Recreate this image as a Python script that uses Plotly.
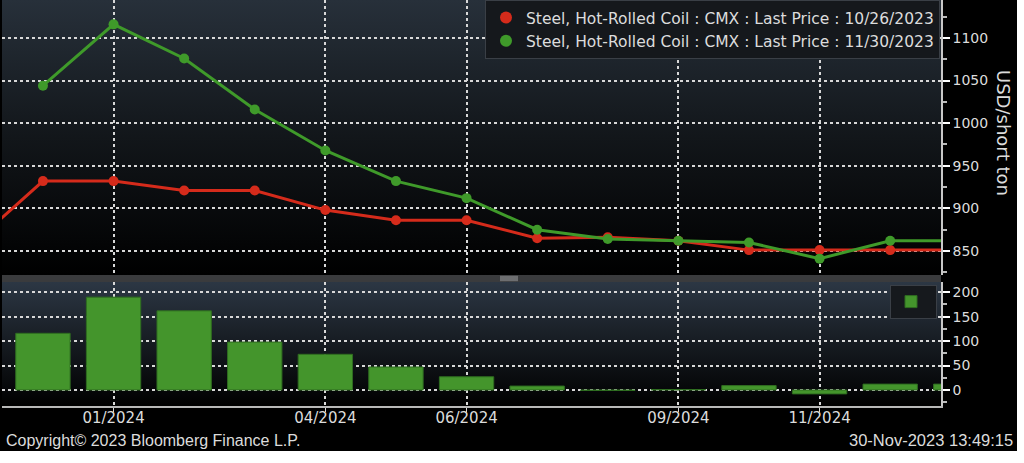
import base64
import plotly.graph_objects as go

# ---------------- data ----------------
contracts = ["11/2023", "12/2023", "01/2024", "02/2024", "03/2024", "04/2024", "05/2024",
             "06/2024", "07/2024", "08/2024", "09/2024", "10/2024", "11/2024", "12/2024", "01/2025"]
price_oct26 = [858, 932, 932, 921, 921, 898, 886, 886, 865, 866, 862, 851, 851, 851, 851]
price_nov30 = [None, 1044, 1116, 1076, 1016, 968, 932, 912, 875, 864, 862, 860, 841, 862, 862]
spread = [None, 116, 190, 162, 98, 73, 47, 27, 8, -1, 1, 9, -8, 12, 12]
name_oct26 = "Steel, Hot-Rolled Coil : CMX : Last Price : 10/26/2023"
name_nov30 = "Steel, Hot-Rolled Coil : CMX : Last Price : 11/30/2023"
x_ticks = ["01/2024", "04/2024", "06/2024", "09/2024", "11/2024"]
top_ticks = [850, 900, 950, 1000, 1050, 1100]
bottom_ticks = [0, 50, 100, 150, 200]

# ---------------- style ----------------
W, H = 1024, 463
RED = "#d52b1b"
GREEN = "#3f9a2a"
BAR = "#44952c"
TXT = "#dcdcdc"
FONT = "DejaVu Sans"
FONT2 = "Liberation Sans"
GRID = "#d8d8d8"

ml, mr, mt, mb = 2, 83, 0, 57
plot_w = W - ml - mr
plot_h = H - mt - mb  # 406
top_dom = [(plot_h - 275) / plot_h, 1.0]
bot_dom = [0.0, (plot_h - 282) / plot_h]


def px_x(px):
    return (px - ml) / plot_w


def px_y(py):
    return (plot_h - py) / plot_h


def grad_uri(c_top, c_mid, c_bot):
    svg = ('<svg xmlns="http://www.w3.org/2000/svg" width="10" height="100" preserveAspectRatio="none">'
           '<defs><linearGradient id="g" x1="0" y1="0" x2="0" y2="1">'
           f'<stop offset="0" stop-color="{c_top}"/><stop offset="0.5" stop-color="{c_mid}"/>'
           f'<stop offset="1" stop-color="{c_bot}"/></linearGradient></defs>'
           '<rect width="10" height="100" fill="url(#g)"/></svg>')
    return "data:image/svg+xml;base64," + base64.b64encode(svg.encode()).decode()


fig = go.Figure()

fig.add_trace(go.Scatter(x=contracts, y=price_oct26, mode="lines+markers", name=name_oct26,
                         line=dict(color=RED, width=3), marker=dict(color=RED, size=10),
                         xaxis="x2", yaxis="y", showlegend=False))
fig.add_trace(go.Scatter(x=contracts, y=price_nov30, mode="lines+markers", name=name_nov30,
                         line=dict(color=GREEN, width=3), marker=dict(color=GREEN, size=10),
                         xaxis="x2", yaxis="y", showlegend=False))
# legend entries (dot only)
fig.add_trace(go.Scatter(x=[None], y=[None], mode="markers", name=name_oct26,
                         marker=dict(color=RED, size=10), xaxis="x2", yaxis="y", legend="legend"))
fig.add_trace(go.Scatter(x=[None], y=[None], mode="markers", name=name_nov30,
                         marker=dict(color=GREEN, size=10), xaxis="x2", yaxis="y", legend="legend"))

fig.add_trace(go.Bar(x=contracts, y=spread, name="", width=0.77,
                     marker=dict(color=BAR, line=dict(color="#2f6d20", width=1)),
                     xaxis="x", yaxis="y2", legend="legend2", showlegend=True))

xr = [0.42, 13.72]
common_x = dict(type="category", categoryorder="array", categoryarray=contracts, range=xr,
                showgrid=True, gridcolor=GRID, griddash="dot", gridwidth=1.5,
                tickmode="array", tickvals=x_ticks, ticktext=x_ticks, zeroline=False)

ytick_common = dict(side="right", showgrid=True, gridcolor=GRID, griddash="dot", gridwidth=1.5,
                    showline=True, linecolor="#c8c8c8", linewidth=1.5,
                    ticks="outside", ticklen=7, tickwidth=2, tickcolor="#ffffff",
                    minor=dict(dtick=25, tick0=0, ticks="outside", ticklen=4, tickcolor="#bbbbbb",
                               showgrid=False),
                    zeroline=False, tickfont=dict(family=FONT, size=14, color=TXT))

fig.update_layout(
    width=W, height=H,
    margin=dict(l=ml, r=mr, t=mt, b=mb),
    paper_bgcolor="#000000",
    plot_bgcolor="rgba(0,0,0,0)",
    font=dict(family=FONT, size=15, color=TXT),
    xaxis=dict(**common_x, domain=[0, 1], anchor="y2",
               showline=True, linecolor="#b8b8b8", linewidth=1.5,
               ticks="outside", ticklen=4, tickcolor=GRID, ticklabelstandoff=-7,
               tickfont=dict(family=FONT, size=15, color=TXT)),
    xaxis2=dict(**common_x, domain=[0, 1], anchor="y", matches="x", showticklabels=False,
                showline=False),
    yaxis=dict(**ytick_common, domain=top_dom, anchor="x2", range=[821.8, 1144.6],
               tickvals=top_ticks),
    yaxis2=dict(**ytick_common, domain=bot_dom, anchor="x", range=[-32.8, 221],
                tickvals=bottom_ticks),
    legend=dict(x=px_x(940), xanchor="right", y=1.0, yanchor="top",
                bgcolor="#15181c", bordercolor="#3a3f46", borderwidth=1,
                font=dict(family=FONT, size=15.5, color=TXT),
                itemsizing="constant", itemwidth=30, tracegroupgap=0),
    legend2=dict(x=px_x(937), xanchor="right", y=px_y(285), yanchor="top",
                 bgcolor="#16191d", bordercolor="#3a3f46", borderwidth=1,
                 font=dict(family=FONT, size=14, color=TXT), itemwidth=30),
    images=[
        dict(source=grad_uri("#27303a", "#12161a", "#000000"), xref="paper", yref="paper",
             x=0, y=1, sizex=1, sizey=top_dom[1] - top_dom[0], xanchor="left", yanchor="top",
             sizing="stretch", layer="below"),
        dict(source=grad_uri("#2c3744", "#161b21", "#000000"), xref="paper", yref="paper",
             x=0, y=bot_dom[1], sizex=1, sizey=bot_dom[1] - bot_dom[0], xanchor="left",
             yanchor="top", sizing="stretch", layer="below"),
    ],
    shapes=[
        # panel separator
        dict(type="rect", xref="paper", yref="paper", x0=0, x1=1,
             y0=bot_dom[1], y1=top_dom[0], fillcolor="#3a3b3d", line=dict(width=0), layer="above"),
        dict(type="rect", xref="paper", yref="paper", x0=px_x(500), x1=px_x(518),
             y0=bot_dom[1] + 0.002, y1=top_dom[0] - 0.002,
             fillcolor="#6d6e70", line=dict(width=0), layer="above"),
        # white margins of the screenshot
        dict(type="rect", xref="paper", yref="paper", x0=px_x(1017), x1=px_x(W + 5),
             y0=px_y(H + 5), y1=px_y(-5), fillcolor="#ffffff", line=dict(width=0), layer="above"),
        dict(type="rect", xref="paper", yref="paper", x0=px_x(-5), x1=px_x(W + 5),
             y0=px_y(H + 5), y1=px_y(451), fillcolor="#ffffff", line=dict(width=0), layer="above"),
    ],
    annotations=[
        dict(text="USD/short ton", textangle=90, xref="paper", yref="paper",
             x=px_x(1004), y=px_y(133), showarrow=False,
             font=dict(family=FONT, size=18, color=TXT), xanchor="center", yanchor="middle"),
        dict(text="Copyright\u00a9 2023 Bloomberg Finance L.P.", xref="paper", yref="paper",
             x=px_x(4), y=px_y(440), showarrow=False,
             xanchor="left", yanchor="middle", font=dict(family=FONT2, size=16, color=TXT)),
        dict(text="30-Nov-2023 13:49:15", xref="paper", yref="paper",
             x=px_x(1015), y=px_y(440), showarrow=False,
             xanchor="right", yanchor="middle", font=dict(family=FONT2, size=16.5, color=TXT)),
    ],
)

fig.write_html("out.html", config={"displayModeBar": False},
               post_script="document.body.style.margin='0';document.body.style.overflow='hidden';")
